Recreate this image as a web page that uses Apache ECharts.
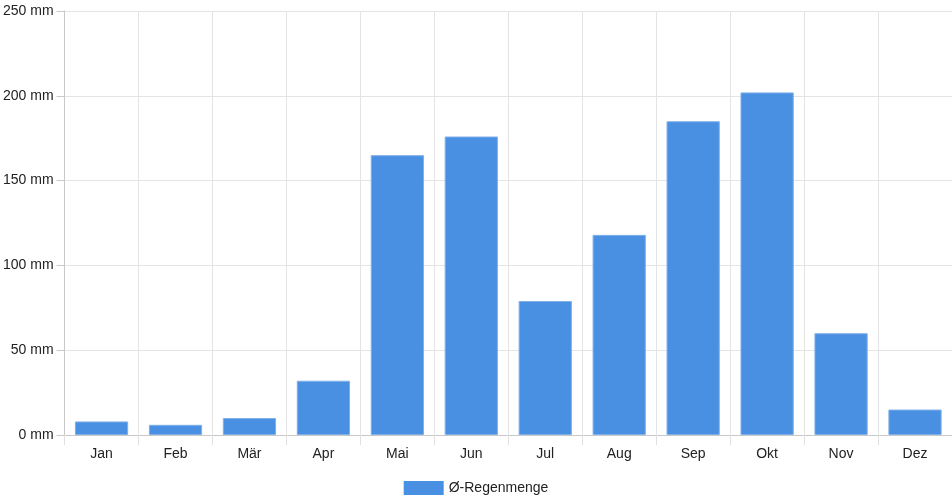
<!DOCTYPE html>
<html>
<head>
<meta charset="utf-8">
<script src="https://cdn.jsdelivr.net/npm/echarts@6/dist/echarts.min.js"></script>
<style>
html,body{margin:0;padding:0;background:#fff;}
#chart{width:952px;height:500px;}
</style>
</head>
<body>
<div id="chart"></div>
<script>
var months = ['Jan','Feb','Mär','Apr','Mai','Jun','Jul','Aug','Sep','Okt','Nov','Dez'];
var rain = [8, 6, 10, 32, 165, 176, 79, 118, 185, 202, 60, 15];
var seriesName = 'Ø-Regenmenge';

var chart = echarts.init(document.getElementById('chart'));
var option = {
	animation: false,
	textStyle: {fontFamily: 'Liberation Sans, Arial, sans-serif'},
	grid: {left: 64, right: 0, top: 11, bottom: 65},
	legend: {
		data: [seriesName],
		left: 'center',
		top: 476,
		itemWidth: 40,
		itemHeight: 14,
		itemGap: 8,
		textStyle: {fontSize: 14, color: '#222'},
		itemStyle: {borderWidth: 0},
		icon: 'rect'
	},
	xAxis: {
		type: 'category',
		data: months,
		boundaryGap: true,
		axisLine: {lineStyle: {color: '#c8c8c8'}},
		axisTick: {show: true, length: 10, lineStyle: {color: '#e0e0e0'}},
		axisLabel: {color: '#222', fontSize: 14, margin: 12},
		splitLine: {show: true, lineStyle: {color: '#e4e4e4'}}
	},
	yAxis: {
		type: 'value',
		min: 0,
		max: 250,
		interval: 50,
		axisLine: {show: true, lineStyle: {color: '#c8c8c8'}},
		axisTick: {show: true, length: 8, lineStyle: {color: '#c8c8c8'}},
		axisLabel: {color: '#222', fontSize: 14, margin: 11, formatter: '{value} mm'},
		splitLine: {show: true, lineStyle: {color: '#e4e4e4'}}
	},
	series: [{
		name: seriesName,
		type: 'bar',
		data: rain,
		barCategoryGap: '28%',
		itemStyle: {color: '#4a90e2', borderColor: '#7fb0ea', borderWidth: 1}
	}]
};
chart.setOption(option);
</script>
</body>
</html>
